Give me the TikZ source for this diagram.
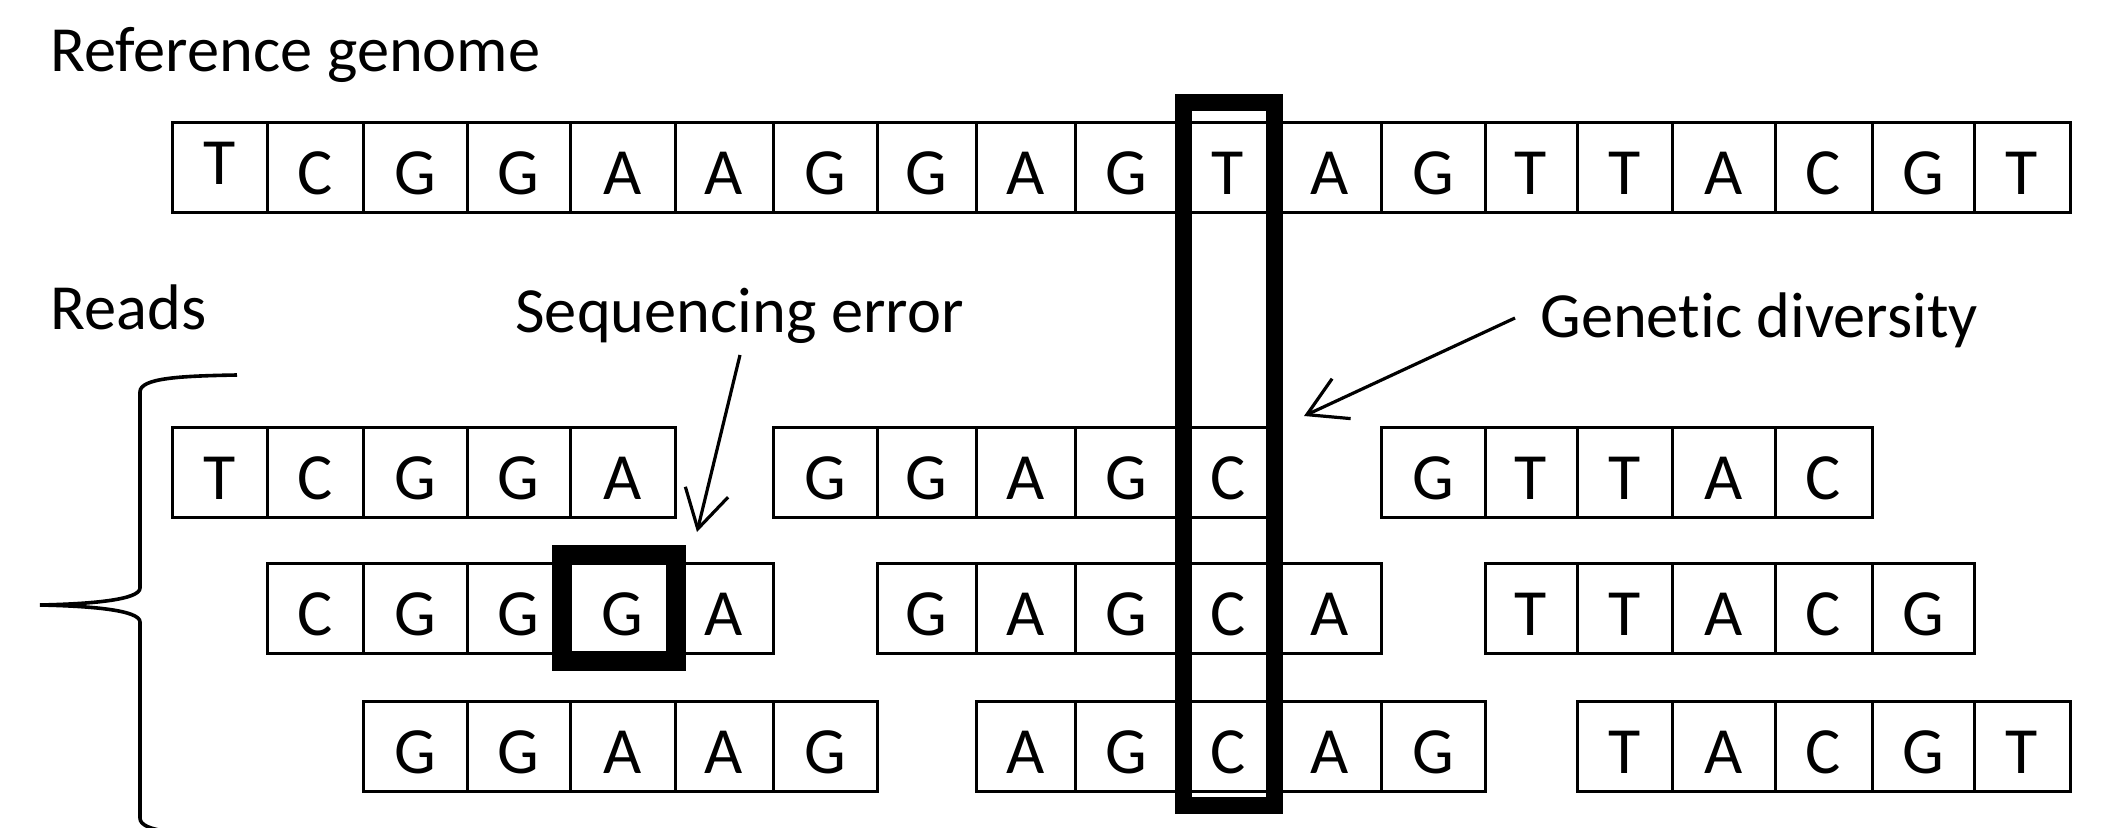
\documentclass[tikz,border=0pt]{standalone}
\usepackage{fontspec}
\setmainfont{Carlito}[Ligatures=NoCommon]
\usetikzlibrary{arrows.meta}

% left edges of the nineteen genome columns, plus the right edge of the last one
\def\colx{{172,267,363,467,570,675,773,877,976,1075,1178,1278,1381,1485,1577,1672,1775,1872,1974,2070}}

% \nucbox[extra style]{name}{column}{y centre}{base}
\newcommand{\nucbox}[5][]{%
  \pgfmathsetmacro\nucxl{\colx[#3]}%
  \pgfmathsetmacro\nucxr{\colx[#3+1]}%
  \node[nuc,#1,minimum width={(\nucxr-\nucxl)*0.5pt}] (#2) at ({(\nucxl+\nucxr)/2},#4) {#5};%
}

\begin{document}
\begin{tikzpicture}[x=0.5pt,y=-0.5pt,
  nuc/.style={draw,line width=1.5pt,inner sep=0pt,outer sep=0pt,minimum height=45pt,
    text height=27pt,text depth=0pt,font=\fontsize{33}{40}\selectfont},
  raised/.style={text height=17pt},
  caption/.style={inner sep=0pt,anchor=base west,font=\fontsize{32.2}{40}\selectfont},
  marker/.style={draw,inner sep=0pt,outer sep=0pt},
  pointer/.style={line width=1.6pt,-{Straight Barb[length=19pt,width=22pt,line width=1.6pt]}},
  bracket/.style={line width=1.8pt}]

\fill[white] (0,0) rectangle (2118,828);
\useasboundingbox (0,0) rectangle (2118,828);
\clip (0,0) rectangle (2118,828);

% headings and annotations
\node[caption] (reftitle)   at (50,72)   {Reference genome};
\node[caption] (readstitle) at (50,330)  {Reads};
\node[caption] (errtitle)   at (515,333) {Sequencing error};
\node[caption] (divtitle)   at (1540,337) {Genetic diversity};

% reference sequence
\nucbox[raised]{ref0}{0}{168}{T}
\foreach \l [count=\c] in {C,G,G,A,A,G,G,A,G,T,A,G,T,T,A,C,G,T} {\nucbox{ref\c}{\c}{168}{\l}}

% aligned reads: name / y centre / first column / bases
\foreach \rd/\yc/\st/\seq in {
    a/472/0/{T,C,G,G,A}, b/472/6/{G,G,A,G,C}, c/472/12/{G,T,T,A,C},
    d/608/1/{C,G,G,G,A}, e/608/7/{G,A,G,C,A}, f/608/13/{T,T,A,C,G},
    g/746/2/{G,G,A,A,G}, h/746/8/{A,G,C,A,G}, i/746/14/{T,A,C,G,T}}
  \foreach \l [count=\k from 0] in \seq {
    \pgfmathtruncatemacro\col{\st+\k}
    \nucbox{read\rd\k}{\col}{\yc}{\l}
  }

% highlighted positions
\node[marker,line width=10pt,minimum width=57pt,minimum height=53pt] (errbox) at (619,608) {};
\node[marker,line width=8.5pt,minimum width=45.5pt,minimum height=351pt] (divbox) at (1228.5,454) {};

% pointers
\coordinate (errtail) at (740,355);
\coordinate (errtip)  at (697,532);
\draw[pointer] (errtail) -- (errtip);
\coordinate (divtail) at (1515,318);
\coordinate (divtip)  at (1304,416);
\draw[pointer] (divtail) -- (divtip);

% brace grouping the reads
\draw[bracket] (237,375) .. controls (180,376) and (140,378) .. (140,392)
  -- (140,588) .. controls (140,600) and (90,604) .. (40,605)
  .. controls (90,606) and (140,610) .. (140,622)
  -- (140,818) .. controls (140,832) and (180,834) .. (237,835);
\end{tikzpicture}
\end{document}
